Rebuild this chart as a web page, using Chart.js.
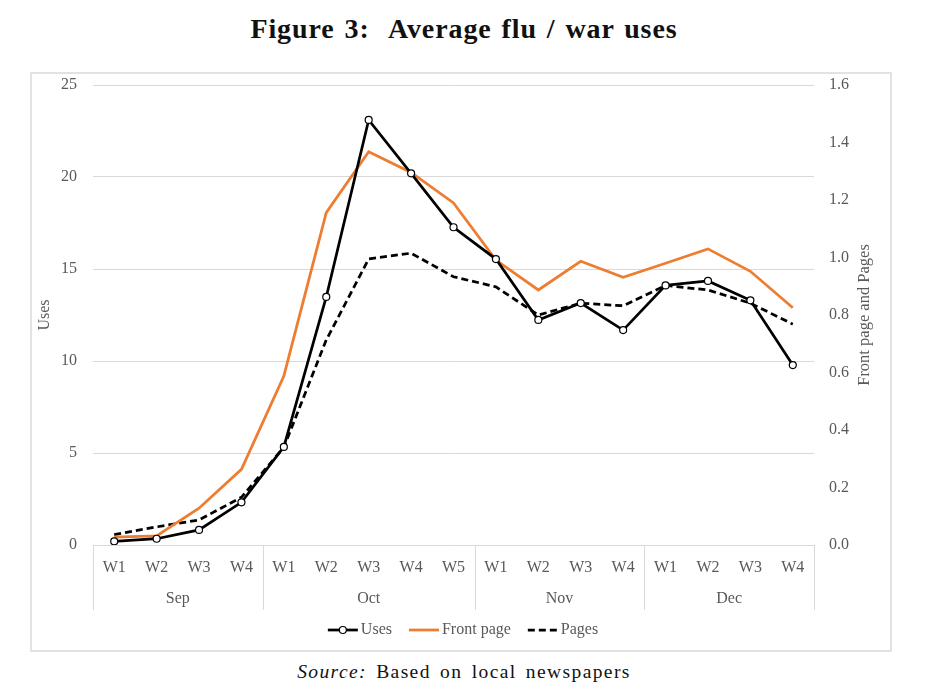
<!DOCTYPE html>
<html><head><meta charset="utf-8">
<script src="https://cdn.jsdelivr.net/npm/chart.js@4"></script>
<style>
body{margin:0;background:#fff;width:928px;height:700px;position:relative;font-family:'Liberation Serif',serif;overflow:hidden;}
#title{position:absolute;left:0;top:12px;width:928px;text-align:center;font-weight:bold;font-size:28px;color:#111;line-height:34px;letter-spacing:0.9px;word-spacing:2px;}
#frame{position:absolute;left:30px;top:72px;width:858px;height:576px;border:2px solid #e2e2e2;}
#source{position:absolute;left:0;top:658px;width:928px;text-align:center;font-size:19.5px;color:#111;line-height:28px;letter-spacing:1.4px;word-spacing:3px;}
canvas{display:block;}
</style></head>
<body>
<div id="title">Figure 3:&nbsp; Average flu / war uses</div>
<div id="frame"><canvas id="c" width="858" height="576"></canvas></div>
<div id="source"><i>Source:</i> Based on local newspapers</div>
<script>
const weeks = ['W1','W2','W3','W4','W1','W2','W3','W4','W5','W1','W2','W3','W4','W1','W2','W3','W4'];
const months = ['Sep','Oct','Nov','Dec'];
const monthWeekCounts = [4,5,4,4];
const uses = [0.2,0.34,0.82,2.32,5.33,13.48,23.1,20.2,17.27,15.54,12.23,13.15,11.68,14.11,14.35,13.3,9.78];
const frontPage = [0.027,0.032,0.128,0.263,0.588,1.156,1.368,1.296,1.19,0.991,0.887,0.987,0.931,0.98,1.03,0.952,0.825];
const pages = [0.036,0.063,0.087,0.166,0.34,0.713,0.995,1.015,0.933,0.898,0.8,0.841,0.832,0.903,0.887,0.841,0.768];
const leftTitle = 'Uses';
const rightTitle = 'Front page and Pages';

const FONT = '"Liberation Serif", serif';
const GRAY = '#595959';

const deco = {
  id: 'deco',
  afterDraw(chart) {
    const ctx = chart.ctx, x = chart.scales.x, a = chart.chartArea;
    ctx.save();
    const step = x.getPixelForValue(1) - x.getPixelForValue(0);
    const bounds = [x.getPixelForValue(0) - step / 2];
    let idx = 0;
    monthWeekCounts.forEach(c => { idx += c; bounds.push(x.getPixelForValue(idx - 1) + step / 2); });
    ctx.strokeStyle = '#d9d9d9'; ctx.lineWidth = 1;
    bounds.forEach(b => {
      const xx = Math.round(b) + 0.5;
      ctx.beginPath(); ctx.moveTo(xx, a.bottom); ctx.lineTo(xx, a.bottom + 65); ctx.stroke();
    });
    ctx.font = '16px ' + FONT; ctx.fillStyle = GRAY;
    ctx.textAlign = 'center'; ctx.textBaseline = 'middle';
    months.forEach((m, i) => ctx.fillText(m, (bounds[i] + bounds[i + 1]) / 2, a.bottom + 54));
    const cy = (a.top + a.bottom) / 2;
    ctx.save(); ctx.translate(13, cy); ctx.rotate(-Math.PI / 2); ctx.fillText(leftTitle, 0, 0); ctx.restore();
    ctx.font = '16.5px ' + FONT;
    ctx.save(); ctx.translate(833, cy); ctx.rotate(-Math.PI / 2); ctx.fillText(rightTitle, 0, 0); ctx.restore();
    ctx.font = '16px ' + FONT;
    const items = chart.data.datasets.map(d => ({ ds: d, w: ctx.measureText(d.label).width }));
    const lineLen = 30, gapT = 3, gapI = 17;
    let total = 0;
    items.forEach((it, i) => { total += lineLen + gapT + it.w + (i < items.length - 1 ? gapI : 0); });
    let lx = 431 - total / 2;
    const ly = 556;
    ctx.textAlign = 'left';
    items.forEach(it => {
      const d = it.ds;
      ctx.strokeStyle = d.borderColor; ctx.lineWidth = d.borderWidth;
      ctx.setLineDash(d.borderDash || []);
      ctx.beginPath(); ctx.moveTo(lx, ly); ctx.lineTo(lx + lineLen, ly); ctx.stroke();
      ctx.setLineDash([]);
      if (d.pointRadius > 0) {
        ctx.beginPath(); ctx.arc(lx + lineLen / 2, ly, d.pointRadius, 0, Math.PI * 2);
        ctx.fillStyle = d.pointBackgroundColor; ctx.fill();
        ctx.lineWidth = d.pointBorderWidth; ctx.strokeStyle = d.pointBorderColor; ctx.stroke();
      }
      ctx.fillStyle = GRAY;
      ctx.fillText(d.label, lx + lineLen + gapT, ly);
      lx += lineLen + gapT + it.w + gapI;
    });
    ctx.restore();
  }
};

const zeroPad = s => { s.paddingTop = 0; s.paddingBottom = 0; s.paddingLeft = 0; s.paddingRight = 0; };

new Chart(document.getElementById('c'), {
  type: 'line',
  data: {
    labels: weeks,
    datasets: [
      { label: 'Uses', data: uses, yAxisID: 'y', borderColor: '#000', borderWidth: 2.75,
        pointRadius: 3.5, pointBackgroundColor: '#fff', pointBorderColor: '#000', pointBorderWidth: 1.2, tension: 0 },
      { label: 'Front page', data: frontPage, yAxisID: 'y1', borderColor: '#ED7D31', borderWidth: 2.75,
        pointRadius: 0, tension: 0 },
      { label: 'Pages', data: pages, yAxisID: 'y1', borderColor: '#000', borderWidth: 2.75, borderDash: [7, 4],
        pointRadius: 0, tension: 0 }
    ]
  },
  options: {
    responsive: false, animation: false, devicePixelRatio: 1,
    layout: { padding: { top: 11, left: 0, right: 0, bottom: 0 } },
    plugins: { legend: { display: false }, tooltip: { enabled: false } },
    scales: {
      x: {
        offset: true,
        grid: { display: false, offset: true }, border: { display: false },
        ticks: { font: { family: FONT, size: 16 }, color: GRAY, padding: 5, maxRotation: 0, autoSkip: false },
        afterFit: s => { zeroPad(s); s.height = 105; }
      },
      y: {
        position: 'left', min: 0, max: 25,
        ticks: { stepSize: 5, font: { family: FONT, size: 16 }, color: GRAY, padding: 16 },
        grid: { color: '#d9d9d9', drawTicks: false }, border: { display: false },
        afterFit: s => { zeroPad(s); s.width = 61; }
      },
      y1: {
        position: 'right', min: 0, max: 1.6,
        ticks: { stepSize: 0.2, font: { family: FONT, size: 16 }, color: GRAY, padding: 15,
          callback: v => Number(v).toFixed(1) },
        grid: { display: false, drawTicks: false }, border: { display: false },
        afterFit: s => { zeroPad(s); s.width = 76; }
      }
    }
  },
  plugins: [deco]
});
</script>
</body></html>
